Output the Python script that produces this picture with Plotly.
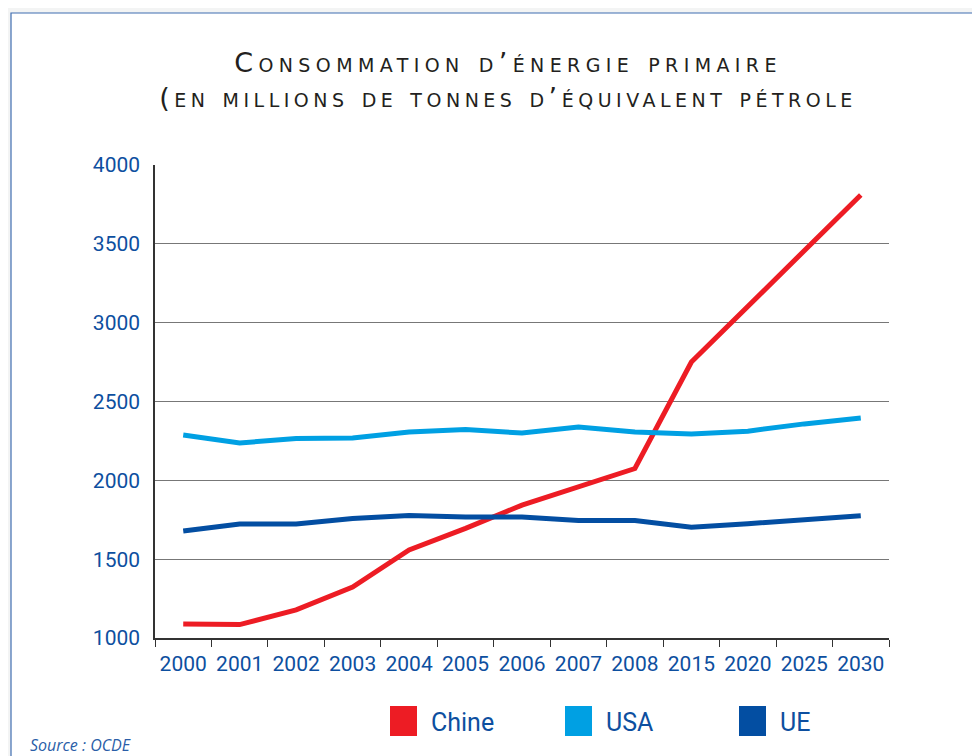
import plotly.graph_objects as go

categories = ["2000", "2001", "2002", "2003", "2004", "2005", "2006", "2007", "2008", "2015", "2020", "2025", "2030"]
chine = [1089, 1085, 1178, 1323, 1558, 1695, 1843, 1955, 2075, 2750, 3105, 3460, 3810]
usa = [2287, 2237, 2265, 2268, 2306, 2322, 2300, 2338, 2306, 2294, 2312, 2358, 2395]
ue = [1679, 1723, 1723, 1758, 1777, 1768, 1768, 1745, 1745, 1702, 1725, 1750, 1775]
series_names = ["Chine", "USA", "UE"]
series_colors = ["#ed1c24", "#00a0e3", "#034ea2"]
y_ticks = [1000, 1500, 2000, 2500, 3000, 3500, 4000]

label_blue = "#0d4f9f"
cond_font = "Roboto, sans-serif"

fig = go.Figure()
for name, vals, col in zip(series_names, [chine, usa, ue], series_colors):
    fig.add_trace(go.Scatter(x=categories, y=vals, mode="lines", name=name,
                             line=dict(color=col, width=5), showlegend=False))

OFF = 8  # page body margin
W, H = 980 - OFF, 756 - OFF
ml, mt = 155 - OFF, 165 - OFF
mr, mb = W - (889 - OFF), H - (638 - OFF)
pw, ph = W - ml - mr, H - mt - mb

def px(x):
    return (x - OFF - ml) / pw

def py(y):
    return (H - mb - (y - OFF)) / ph

shapes = [
    dict(type="rect", xref="paper", yref="paper", x0=px(11), x1=px(1000), y0=py(780), y1=py(13),
         fillcolor="white", line=dict(color="#3f6db0", width=1.2), layer="below"),
]
annotations = []
leg_x = [390, 565, 739]
for name, col, lx in zip(series_names, series_colors, leg_x):
    shapes.append(dict(type="rect", xref="paper", yref="paper", x0=px(lx), x1=px(lx + 27),
                       y0=py(736), y1=py(706), fillcolor=col, line=dict(width=0), layer="above"))
    annotations.append(dict(xref="paper", yref="paper", x=px(lx + 39), y=py(722), text=name,
                            showarrow=False, xanchor="left", yanchor="middle",
                            font=dict(family=cond_font, size=25, color=label_blue)))
annotations.append(dict(xref="paper", yref="paper", x=px(28), y=py(745), text="<i>Source : OCDE</i>",
                        showarrow=False, xanchor="left", yanchor="middle",
                        font=dict(family="Open Sans, sans-serif", size=16, color="#2a5ea8")))

title_text = ("<span style='letter-spacing:5.4px'>Consommation d’énergie primaire</span><br>"
              "<span style='letter-spacing:4.5px'>(en millions de tonnes d’équivalent pétrole</span>")

fig.update_layout(
    width=W, height=H,
    margin=dict(l=ml, r=mr, t=mt, b=mb),
    paper_bgcolor="#f3f4f4", plot_bgcolor="white",
    title=dict(text=title_text,
               x=(508 - OFF) / W, xref="container", xanchor="center",
               y=1 - (72 - OFF) / H, yref="container", yanchor="top",
               font=dict(family="DejaVu Sans, sans-serif", size=27, color="#231f20", variant="small-caps")),
    shapes=shapes, annotations=annotations,
    showlegend=False,
)
fig.update_xaxes(type="category", range=[-0.5, 12.5], showgrid=False, showline=True, linecolor="#333",
                 linewidth=1.5, ticks="outside", tickson="boundaries", ticklen=7, tickcolor="#333",
                 tickwidth=1.2, tickangle=0, ticklabelstandoff=6,
                 tickfont=dict(family=cond_font, size=21, color=label_blue))
fig.update_yaxes(range=[1000, 4000], tickvals=y_ticks, showgrid=True, gridcolor="#777", gridwidth=1.3,
                 showline=True, linecolor="#333", linewidth=1.5, ticks="", zeroline=False,
                 ticklabelstandoff=9, tickfont=dict(family=cond_font, size=21, color=label_blue))

fig.write_html("out.html")
